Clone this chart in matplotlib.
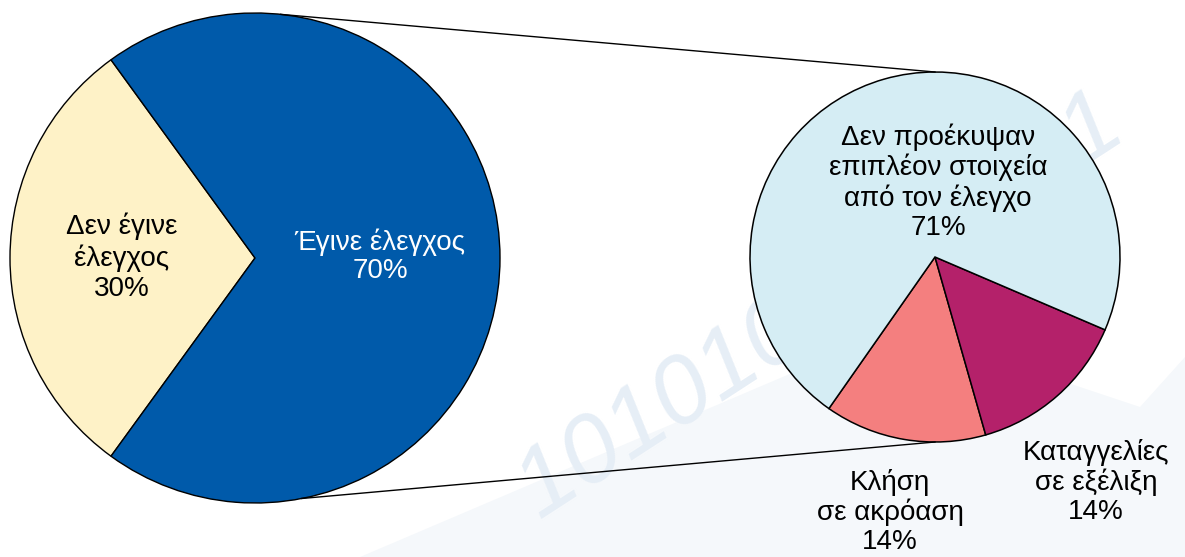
import numpy as np
import matplotlib
matplotlib.use('Agg')
import matplotlib.pyplot as plt
from matplotlib.patches import Polygon

# data
main_labels = ['Δεν έγινε\nέλεγχος\n30%', 'Έγινε έλεγχος\n70%']
main_values = [30, 70]
main_colors = ['#FEF2C7', '#005AAA']

sub_labels = ['Κλήση\nσε ακρόαση\n14%', 'Καταγγελίες\nσε εξέλιξη\n14%',
              'Δεν προέκυψαν\nεπιπλέον στοιχεία\nαπό τον έλεγχο\n71%']
sub_values = [14, 14, 71]
sub_colors = ['#F47F7F', '#B4216A', '#D5EDF4']

W, H = 1185, 557
plt.rcParams['font.family'] = ['Liberation Sans', 'DejaVu Sans']

fig = plt.figure(figsize=(W / 100, H / 100), dpi=100)
ax = fig.add_axes([0, 0, 1, 1])

# faint background swoosh + watermark
ax.add_patch(Polygon([(360, 0), (W, 0), (W, 200), (1140, 150), (900, 230)],
                     closed=True, color='#f5f8fb', zorder=0, lw=0))
ax.text(820, 250, '1010101010101', fontsize=70, style='italic', color='#e6eef6',
        rotation=33, ha='center', va='center', zorder=0.5)

# big pie
big_c = (255, 299)
big_r = 245
ax.pie(main_values, colors=main_colors, startangle=126, counterclock=True,
       center=big_c, radius=big_r, frame=True,
       wedgeprops=dict(edgecolor='black', linewidth=1))

# small pie
small_c = (935, 300)
small_r = 185
ax.pie(sub_values, colors=sub_colors, startangle=-125, counterclock=True,
       center=small_c, radius=small_r, frame=True,
       wedgeprops=dict(edgecolor='black', linewidth=1.1))
ax.set_xlim(0, W)
ax.set_ylim(0, H)
ax.set_aspect('equal')
ax.axis('off')

# connector lines
for a_big, a_small in [(84, 90), (-79, -90)]:
    p1 = (big_c[0] + big_r * np.cos(np.radians(a_big)),
          big_c[1] + big_r * np.sin(np.radians(a_big)))
    p2 = (small_c[0] + small_r * np.cos(np.radians(a_small)),
          small_c[1] + small_r * np.sin(np.radians(a_small)))
    ax.plot([p1[0], p2[0]], [p1[1], p2[1]], color='black', lw=1, zorder=1)

fs = 20
ax.text(122, 300, main_labels[0], fontsize=fs, ha='center', va='center',
        linespacing=1.2, color='black')
ax.text(380, 301, main_labels[1], fontsize=fs, ha='center', va='center',
        linespacing=1.1, color='white')
ax.text(938, 375, sub_labels[2], fontsize=fs, ha='center', va='center',
        linespacing=1.15, color='black')
ax.text(890, 45, sub_labels[0], fontsize=fs, ha='center', va='center',
        linespacing=1.15, color='black')
ax.text(1096, 75, sub_labels[1], fontsize=fs, ha='center', va='center',
        linespacing=1.15, color='black')

fig.savefig('out.png', dpi=100)
